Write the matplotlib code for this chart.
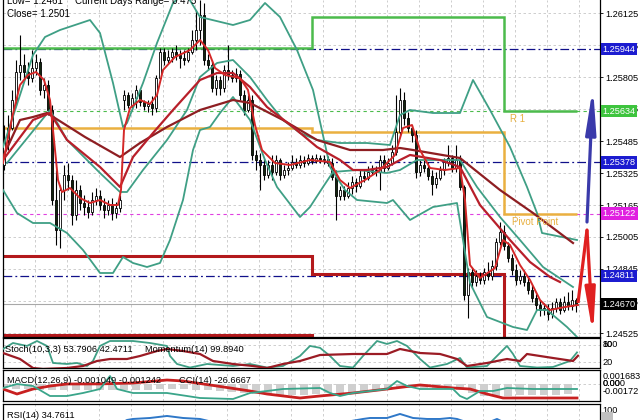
import numpy as np
import matplotlib
matplotlib.use("Agg")
import matplotlib.pyplot as plt
from matplotlib.transforms import blended_transform_factory

plt.rcParams['font.family'] = ['Liberation Sans', 'DejaVu Sans']

# ---------------- data ----------------
close = [1.2549, 1.2555, 1.2569, 1.2583, 1.25865, 1.2583, 1.2580, 1.2585, 1.2588, 1.2574,
         1.25765, 1.2564, 1.2519, 1.2504, 1.2524, 1.25315, 1.2529, 1.25115, 1.2524, 1.25175,
         1.25155, 1.2513, 1.2519, 1.2521, 1.25165, 1.2514, 1.25165, 1.25125, 1.2515, 1.2519,
         1.25715, 1.25665, 1.2570, 1.2574, 1.2568, 1.2566, 1.2567, 1.2565, 1.2580, 1.2593,
         1.2589, 1.25905, 1.2593, 1.25915, 1.2590, 1.2589, 1.2593, 1.2599, 1.2604, 1.26115,
         1.2589, 1.25865, 1.2575, 1.2579, 1.2575, 1.2584, 1.25815, 1.2580, 1.2582, 1.25715,
         1.2564, 1.2569, 1.25415, 1.2539, 1.25365, 1.25315, 1.25365, 1.2533, 1.2539, 1.25315,
         1.2534, 1.2535, 1.2538, 1.25365, 1.2539, 1.25375, 1.2540, 1.25385, 1.2540, 1.2539,
         1.25395, 1.25375, 1.25305, 1.2521, 1.2524, 1.2521, 1.2525, 1.2528, 1.2526, 1.2531,
         1.2530, 1.2533, 1.2534, 1.2533, 1.2539, 1.2535, 1.25375, 1.2543, 1.2553, 1.2569,
         1.2560, 1.2555, 1.25515, 1.2533, 1.25365, 1.2535, 1.2531, 1.2527, 1.2530, 1.2534,
         1.2538, 1.2540, 1.2535, 1.2539, 1.25255, 1.24715, 1.2483, 1.2478, 1.2481, 1.2479,
         1.2483, 1.2481, 1.2486, 1.2498, 1.2503, 1.2496, 1.2490, 1.2484, 1.2479, 1.2481,
         1.2478, 1.2474, 1.2470, 1.24665, 1.2464, 1.2465, 1.2462, 1.2465, 1.2468, 1.2464,
         1.2468, 1.2466, 1.2469, 1.2467]
high = [1.25565, 1.25615, 1.2574, 1.2589, 1.26015, 1.2592, 1.2588, 1.2594, 1.2592, 1.2590,
        1.2580, 1.2579, 1.25665, 1.2534, 1.25265, 1.25365, 1.25375, 1.25315, 1.2529, 1.25265,
        1.25215, 1.2519, 1.2523, 1.2525, 1.2524, 1.2520, 1.2519, 1.2520, 1.2518, 1.25215,
        1.2574, 1.2573, 1.25725, 1.25765, 1.2575, 1.2569, 1.2569, 1.2571, 1.25815, 1.2595,
        1.2595, 1.2594, 1.2595, 1.25965, 1.2594, 1.2594, 1.2595, 1.2604, 1.2614, 1.2619,
        1.26175, 1.2592, 1.2589, 1.25815, 1.2581, 1.25865, 1.25965, 1.2584, 1.2585, 1.2584,
        1.2574, 1.25715, 1.25715, 1.2544, 1.25425, 1.2540, 1.2539, 1.25415, 1.25415, 1.2540,
        1.25365, 1.2538, 1.25415, 1.2540, 1.25415, 1.2541, 1.2542, 1.25415, 1.2542, 1.25415,
        1.25415, 1.2541, 1.2540, 1.2534, 1.2526, 1.2526, 1.2528, 1.2531, 1.2530, 1.2534,
        1.2534, 1.2536, 1.25365, 1.2536, 1.25415, 1.25415, 1.2540, 1.25465, 1.25715, 1.2575,
        1.2573, 1.2563, 1.25565, 1.2554, 1.2539, 1.2539, 1.2538, 1.2534, 1.2533, 1.2536,
        1.2540, 1.25465, 1.25415, 1.25465, 1.25415, 1.25265, 1.2485, 1.2485, 1.2484, 1.2483,
        1.2485, 1.2488, 1.2489, 1.2500, 1.2508, 1.25065, 1.2498, 1.2492, 1.2487, 1.2484,
        1.2484, 1.2481, 1.24765, 1.2472, 1.2469, 1.24675, 1.2467, 1.2468, 1.2470, 1.2470,
        1.2471, 1.2473, 1.2474, 1.2470]
low = [1.2534, 1.2544, 1.2554, 1.25665, 1.2579, 1.2579, 1.25765, 1.2578, 1.25815, 1.25715,
       1.2570, 1.25615, 1.25165, 1.24965, 1.2495, 1.2519, 1.2524, 1.25065, 1.2509, 1.2514,
       1.25115, 1.2510, 1.25115, 1.25165, 1.2514, 1.2510, 1.25115, 1.2509, 1.2510, 1.2513,
       1.2564, 1.2565, 1.2564, 1.2565, 1.2566, 1.2564, 1.2563, 1.25615, 1.2563, 1.2579,
       1.25865, 1.25875, 1.2588, 1.2589, 1.2585, 1.25865, 1.2588, 1.2592, 1.2594, 1.25965,
       1.25865, 1.2584, 1.2573, 1.25715, 1.25715, 1.2573, 1.2579, 1.2578, 1.2578, 1.2569,
       1.25615, 1.2563, 1.2539, 1.2534, 1.2524, 1.2529, 1.2530, 1.2529, 1.25315, 1.2529,
       1.2530, 1.25315, 1.2534, 1.2535, 1.2535, 1.25355, 1.25365, 1.2537, 1.25375, 1.25375,
       1.2537, 1.2536, 1.2529, 1.2509, 1.2519, 1.2519, 1.2520, 1.2522, 1.2523, 1.2525,
       1.2528, 1.2529, 1.25315, 1.2531, 1.2524, 1.2533, 1.2534, 1.25365, 1.25415, 1.25515,
       1.25565, 1.2553, 1.2548, 1.2530, 1.2531, 1.2533, 1.2529, 1.25215, 1.2525, 1.2529,
       1.25315, 1.2536, 1.2533, 1.2533, 1.2524, 1.2469, 1.2460, 1.2475, 1.2476, 1.2477,
       1.2477, 1.2479, 1.2479, 1.2484, 1.24965, 1.2494, 1.2488, 1.24815, 1.24765, 1.2477,
       1.2476, 1.2472, 1.2468, 1.2464, 1.2461, 1.24615, 1.2459, 1.2460, 1.2463, 1.2462,
       1.2463, 1.2464, 1.2464, 1.2463]
first_open = 1.25365
gap_bar = 30
gap_open = 1.2569

# indicator lines: (bar index, price)
band1_bars = [-0.25, 4, 7.25, 10.25, 14, 21.5, 24, 27.25, 29.75, 30.75, 34.75, 38.25, 42.25, 45.25, 49,
              57.25, 61.5, 65.25, 69, 73.25, 77.25, 81.5, 85.25, 88.25, 95.75, 97.25, 101.5, 107.25,
              113.25, 114.75, 116.5, 120.75, 127.25, 130.75, 133.25, 135.75, 140.75, 143.25]
band1_vals = [1.25455, 1.25715, 1.25915, 1.26005, 1.2604, 1.2609, 1.26025, 1.25775, 1.25555, 1.25575,
              1.25775, 1.25975, 1.26175, 1.2623, 1.26105, 1.26065, 1.2609, 1.26175, 1.26105, 1.2594,
              1.2574, 1.25355, 1.2524, 1.2519, 1.25175, 1.2519, 1.2509, 1.25155, 1.25175, 1.2499,
              1.24775, 1.24605, 1.24555, 1.2454, 1.2464, 1.2464, 1.24555, 1.24505]
band2_bars = [-0.25, 3.25, 7.25, 11.5, 15.75, 19.75, 24, 27.25, 29.75, 32.25, 35.75, 39, 41.5, 44.75,
              47.25, 49, 51.5, 54, 57.25, 61.5, 65.25, 68.25, 74, 76.5, 79.75, 82.25, 88.25, 95.75,
              99, 103.25, 114, 118.25, 124, 129, 134.75, 142.25]
band2_vals = [1.2524, 1.25125, 1.25075, 1.25075, 1.25025, 1.2494, 1.24825, 1.24825, 1.24905, 1.24875,
              1.24855, 1.24875, 1.2499, 1.2519, 1.2544, 1.2554, 1.25555, 1.25625, 1.25705, 1.2559,
              1.2539, 1.25255, 1.25105, 1.25155, 1.25255, 1.2533, 1.2534, 1.25325, 1.2534, 1.2539,
              1.2539, 1.25255, 1.25105, 1.2499, 1.24855, 1.24755]
band3_bars = [0.75, 11.5, 15.75, 24, 29, 30.75, 34.75, 40.75, 45.75, 49, 53.25, 57.25, 61.5, 65.75,
              69.75, 74, 78.25, 84, 90.75, 96.5, 99, 101.5, 107.25, 114, 117.25, 121.5, 126.5,
              130.75, 133.25, 134.5, 143.25]
band3_vals = [1.25375, 1.2564, 1.2549, 1.25325, 1.2523, 1.2523, 1.2534, 1.2549, 1.2564, 1.25805,
              1.25875, 1.2589, 1.25805, 1.2569, 1.2559, 1.25525, 1.2549, 1.25475, 1.25475, 1.25465,
              1.25615, 1.2564, 1.25625, 1.25625, 1.2579, 1.2564, 1.25455, 1.25255, 1.25125, 1.25025,
              1.2499]
ma_fast_bars = [-0.25, 2, 4, 6, 8, 10, 11.5, 12.5, 13.5, 14.5, 16.5, 19, 21.5, 24, 26.5, 28.5, 29.25,
                30, 31.5, 34, 36.5, 38.25, 39.75, 42.75, 46.5, 49, 51, 52.75, 55.25, 59, 61, 62.75,
                64.5, 67.75, 71.5, 76.5, 81.5, 84, 86.5, 90.25, 94, 97.75, 99.75, 102, 104, 106.5,
                110.25, 114, 115.25, 116.5, 119, 122.75, 124.75, 126.5, 129, 131.5, 134, 136.5,
                140.25, 143.5]
ma_fast_vals = [1.25375, 1.2560, 1.25765, 1.25815, 1.2583, 1.2579, 1.2569, 1.2549, 1.2529, 1.2523,
                1.2525, 1.2520, 1.25175, 1.2519, 1.25165, 1.25165, 1.2524, 1.2554, 1.2565, 1.2569,
                1.2567, 1.25715, 1.2584, 1.25905, 1.2594, 1.2599, 1.2594, 1.2585, 1.25815, 1.2580,
                1.2574, 1.25565, 1.2544, 1.25375, 1.25365, 1.2539, 1.2538, 1.2529, 1.2525, 1.2529,
                1.2534, 1.25415, 1.2555, 1.25565, 1.2544, 1.2535, 1.2534, 1.2535, 1.2519, 1.24865,
                1.2480, 1.2485, 1.2499, 1.24965, 1.24865, 1.2479, 1.2469, 1.2464, 1.24655, 1.24665]
ma_mid_bars = [-0.25, 7.25, 11.5, 15.75, 24, 29, 32.25, 37.25, 42.25, 49, 53.25, 57.25, 61.5, 65.75,
               72.25, 78.25, 84, 87.25, 90.75, 95.75, 99, 101.5, 109, 114, 119, 126.5, 131.5,
               136.5, 139]
ma_mid_vals = [1.2539, 1.2559, 1.25625, 1.2549, 1.25355, 1.25255, 1.25405, 1.25525, 1.2564, 1.2579,
               1.25825, 1.25825, 1.25755, 1.25655, 1.25555, 1.25455, 1.2539, 1.2534, 1.2534, 1.25355,
               1.2539, 1.25415, 1.2539, 1.25355, 1.25165, 1.2499, 1.2488, 1.24805, 1.2478]
ma_slow_bars = [-0.25, 4, 7.25, 10.75, 20.25, 29, 34, 40.75, 49, 57.25, 61.5, 69.75, 78.25, 86.5,
                94.75, 99, 102.25, 114, 124, 132.25, 142.25]
ma_slow_vals = [1.25405, 1.2559, 1.25605, 1.25625, 1.25505, 1.25405, 1.25475, 1.25555, 1.2564, 1.2569,
                1.25675, 1.2559, 1.2549, 1.2544, 1.2544, 1.2545, 1.2544, 1.2540, 1.2524, 1.25125,
                1.24975]

# daily pivot levels
day_edges = [-0.25, 77, 125, 143.25]
r1_levels = [1.2595, 1.26105, 1.25634]
pp_levels = [1.2555, 1.2553, 1.25122]
s1_levels = [1.2491, 1.2482, 1.2430]
s2_levels = [1.24515, 1.2420, 1.2380]

# horizontal price levels with right-side labels
level_prices = [1.25944, 1.25634, 1.25378, 1.25122, 1.24811, 1.24670]

# zigzag projection arrows
blue_arrow_bars = [145.75, 147.25]
blue_arrow_prices = [1.2508, 1.25755]
red_arrow_bars = [143.5, 145.75, 147.25]
red_arrow_prices = [1.24675, 1.2504, 1.24515]

price_ticks = [1.26125, 1.25965, 1.25805, 1.25645, 1.25485, 1.25325,
               1.25165, 1.25005, 1.24845, 1.24685, 1.24525]

# stochastic / momentum
stoch_bars = [-0.25, 2.25, 5.75, 8.25, 10.75, 12.25, 15.75, 18.25, 20.75, 22.25, 24, 26.5, 32.25,
              36.5, 40.75, 41.5, 43.25, 46.5, 50.75, 57.25, 61.5, 65.75, 69.75, 74, 76.5, 79, 81.5,
              84, 87.25, 89.75, 93.25, 95.75, 98.25, 100.75, 104, 106.5, 110.75, 114, 115.75,
              120.75, 124, 125.75, 127.25, 129, 133.25, 137.25, 141.5, 143.25]
stoch_vals = [66, 87, 76.6, 94, 76.6, 16.6, 13, 16.6, 6, 23.6, 76.6, 94, 94, 87, 76.6, 41.3, 13, 0.5,
              13, 6, 13, 0.5, 6, 41.3, 76.6, 70, 41.3, 6, 0.5, 41.3, 94, 83.6, 94, 76.6, 30.7, 0.5,
              13, 34.2, 0.5, 6, 51.9, 76.6, 48.4, 6, 0.5, 2.5, 23.6, 53.8]
mom_bars = [-0.25, 4, 7.25, 9.75, 15.75, 19.75, 23.25, 26.5, 30.75, 34, 38.25, 40.75, 44.75, 49,
            52.25, 57.25, 62.25, 65.75, 69.75, 74, 79, 87.25, 95.75, 99, 104, 109, 110.75, 113.25,
            115.75, 120.75, 125.75, 129, 130.75, 137.25, 142.25, 143.5]
mom_vals = [100.0, 99.76, 99.4, 99.36, 99.4, 99.48, 99.68, 99.76, 99.76, 99.88, 100.08, 100.16,
            100.08, 99.96, 99.68, 99.56, 99.48, 99.4, 99.56, 99.68, 99.92, 99.96, 99.96, 100.16,
            100.0, 99.96, 99.88, 99.76, 99.48, 99.6, 99.76, 99.68, 99.96, 99.8, 99.68, 99.89]

# MACD / CCI
macd_hist = [-0.0009, -0.0010, -0.0011, -0.0012, -0.0013, -0.0014, -0.0014, -0.0013, -0.0013, -0.0012,
             -0.0012, -0.0013, -0.0012, -0.0011, -0.0010, -0.0010, -0.0012, -0.0014, -0.0016, -0.0018,
             -0.0020, -0.0022, -0.0023, -0.0024, -0.0024, -0.0023, -0.0022, -0.0020, -0.0019, -0.0018,
             -0.0017, -0.0015, -0.0012, -0.0009, -0.0008, -0.0009, -0.0010, -0.0011, -0.0014, -0.0020,
             -0.0025, -0.0026, -0.0025, -0.0024, -0.0024, -0.0023, -0.0023, -0.0022]
macd_hist_step = 3
signal_bars = [-0.25, 3.25, 7.25, 11.5, 15.75, 24, 32.25, 40.75, 44.75, 53.25, 61.5, 65.75, 74, 79,
               87.25, 95.75, 104, 112.25, 116.5, 120.75, 124.75, 133.25, 143.25]
signal_vals = [-0.00109, -0.00215, -0.00109, -0.00045, -0.00002, 0.0, 0.00019, 0.00083, 0.00062,
               -0.00045, -0.00151, -0.00215, -0.0030, -0.00257, -0.00194, -0.00109, -0.00023,
               -0.00087, -0.00109, -0.00215, -0.0030, -0.0030, -0.0030]
cci_bars = [-0.25, 3.25, 7.25, 11.5, 15.75, 19.75, 24, 26.5, 28.25, 32.25, 40.75, 45.75, 49, 57.25,
            61.5, 65.75, 69.75, 79, 81.5, 84, 87.25, 95.75, 98.25, 100.75, 104, 112.25, 114, 115.75,
            119, 122.25, 125.75, 132.25, 143.25]
cci_vals = [-80, 0, -40, -240, -240, -180, -100, 160, -100, -180, -180, -240, -280, -300, -180, -140,
            -100, -80, -180, -240, -180, -100, 60, -40, -100, -100, -240, -300, -140, -140, -80,
            -100, -100]

# RSI
rsi_bars = [-0.25, 14, 26.5, 29, 30.75, 32.25, 36.5, 40.75, 44.75, 49, 53.25, 61.5, 74, 84, 89.75,
            91.5, 95.75, 99, 102.25, 105.75, 109, 111.5, 113.25, 114.75, 120.75, 123.25, 124.75,
            131.5, 143.5]
rsi_vals = [50, 40, 55, 45.8, 62.5, 66.7, 70.8, 79.2, 70.8, 66.7, 50, 30, 40, 50, 66.7, 70.8, 70.8,
            87.5, 70.8, 66.7, 66.7, 70.8, 66.7, 58.3, 50, 66.7, 54.2, 35, 34.8]

# ---------------- figure ----------------
W, H = 640.0, 420.0
fig = plt.figure(figsize=(6.4, 4.2), dpi=100)


def box(x0, y0, x1, y1):
    return [x0 / W, 1 - y1 / H, (x1 - x0) / W, (y1 - y0) / H]


ax = fig.add_axes(box(3, 0, 600, 337))
ax_s = fig.add_axes(box(3, 338, 600, 368))
ax_d = fig.add_axes(box(3, 370, 600, 401))
ax_r = fig.add_axes(box(3, 404, 600, 435))

XL = (-0.25, 149)
grid_color = '#c6c6c6'
grid_ls = (0, (3, 3))
grid_x = np.arange(7.75, 149, 8)
LFS = 6.6

for a in (ax, ax_s, ax_d, ax_r):
    a.set_xlim(*XL)
    a.set_xticks([])
    a.set_facecolor('white')
    for gx in grid_x:
        a.axvline(gx, color=grid_color, lw=0.6, ls=grid_ls, zorder=0)
    for sp in a.spines.values():
        sp.set_color('black')
        sp.set_linewidth(0.9)

# ---- main panel ----
ax.set_ylim(1.24505, 1.2619)
ax.spines['top'].set_visible(False)
for p in price_ticks:
    ax.axhline(p, color=grid_color, lw=0.6, ls=grid_ls, zorder=0)
ax.yaxis.tick_right()
ax.set_yticks(price_ticks)
ax.set_yticklabels([f'{p:.5f}' for p in price_ticks])
ax.tick_params(axis='y', length=2.5, width=0.6, pad=1, labelsize=LFS, colors='black')

close_a = np.array(close)
opens = np.concatenate([[first_open], close_a[:-1]])
opens[gap_bar] = gap_open
high_a = np.maximum(np.array(high), np.maximum(opens, close_a))
low_a = np.minimum(np.array(low), np.minimum(opens, close_a))
idx = np.arange(len(close_a))

# pivot step lines
ax.stairs(s2_levels, day_edges, baseline=None, color='#b3191c', lw=2.2, zorder=2)
ax.stairs(s1_levels, day_edges, baseline=None, color='#b3191c', lw=2.2, zorder=2)
ax.stairs(pp_levels, day_edges, baseline=None, color='#eab040', lw=1.8, zorder=2)
ax.stairs(r1_levels, day_edges, baseline=None, color='#4cbb4c', lw=1.8, zorder=2)
ax.text(126.5, 1.25595, 'R 1', color='#e8b040', fontsize=7, va='center', zorder=6)
ax.text(127, 1.2508, 'Pivot Point', color='#e8b040', fontsize=7, va='center', zorder=6)

# horizontal levels
navy_dd = (0, (7, 2.5, 1.5, 2.5))
level_styles = [dict(color='#10108a', ls=navy_dd, lw=0.9),
                dict(color='#4cbb4c', ls=(0, (3, 3)), lw=0.8),
                dict(color='#10108a', ls=navy_dd, lw=0.9),
                dict(color='#e040e0', ls=(0, (3, 3)), lw=0.8),
                dict(color='#10108a', ls=navy_dd, lw=0.9),
                dict(color='#a8a8a8', ls='-', lw=0.8)]
label_bg = ['#1c1cd0', '#3ec43e', '#1c1cd0', '#e020e0', '#1c1cd0', '#000000']
trans_lab = blended_transform_factory(ax.transAxes, ax.transData)
for p, st, bg in zip(level_prices, level_styles, label_bg):
    ax.axhline(p, zorder=1, **st)
    ax.text(1.0045, p, f'{p:.5f}', transform=trans_lab, fontsize=LFS, color='white', va='center',
            ha='left', clip_on=False, zorder=20,
            bbox=dict(boxstyle='square,pad=0.18', fc=bg, ec='none'))

# candles
up = close_a >= opens
body_lo = np.minimum(opens, close_a)
body_h = np.maximum(np.abs(close_a - opens), 0.00002)
ax.vlines(idx, low_a, high_a, color='black', lw=0.8, zorder=3)
ax.bar(idx[up], body_h[up], bottom=body_lo[up], width=0.72, color='white',
       edgecolor='black', linewidth=0.6, zorder=3.5)
ax.bar(idx[~up], body_h[~up], bottom=body_lo[~up], width=0.72, color='#13260f',
       edgecolor='black', linewidth=0.6, zorder=3.5)

# bands and moving averages
teal = '#3f9f85'
ax.plot(band1_bars, band1_vals, color=teal, lw=1.3, zorder=4)
ax.plot(band2_bars, band2_vals, color=teal, lw=1.3, zorder=4)
ax.plot(band3_bars, band3_vals, color=teal, lw=1.3, zorder=4)
ax.plot(ma_slow_bars, ma_slow_vals, color='#8e1e22', lw=1.6, zorder=4.5)
ax.plot(ma_mid_bars, ma_mid_vals, color='#b81f2a', lw=1.6, zorder=4.6)
ax.plot(ma_fast_bars, ma_fast_vals, color='#d42828', lw=1.4, zorder=4.7)

# arrows
arrow_style = '-|>,head_length=2.6,head_width=0.3'
ax.annotate('', xy=(blue_arrow_bars[1], blue_arrow_prices[1]),
            xytext=(blue_arrow_bars[0], blue_arrow_prices[0]),
            arrowprops=dict(arrowstyle=arrow_style, color='#3a3aaa',
                            lw=2.3, shrinkA=0, shrinkB=0), zorder=8)
ax.plot(red_arrow_bars[:2], red_arrow_prices[:2], color='#e02020', lw=2.3, zorder=8,
        solid_capstyle='butt')
ax.annotate('', xy=(red_arrow_bars[2], red_arrow_prices[2]),
            xytext=(red_arrow_bars[1], red_arrow_prices[1]),
            arrowprops=dict(arrowstyle=arrow_style, color='#e02020',
                            lw=2.3, shrinkA=0, shrinkB=0), zorder=8)

# ---- stochastic panel ----
ax_s.set_ylim(-1.1, 104.6)
ax_s.set_yticks([])
for lvl in (20, 80):
    ax_s.axhline(lvl, color=grid_color, lw=0.6, ls=grid_ls, zorder=0)
ax_m = ax_s.twinx()
ax_m.set_xlim(*XL)
ax_m.set_ylim(99.4, 100.6)
ax_m.set_yticks([])
for sp in ax_m.spines.values():
    sp.set_visible(False)
ax_m.plot(mom_bars, mom_vals, color='#9b1b24', lw=1.6, zorder=3)
ax_s.plot(stoch_bars, stoch_vals, color=teal, lw=1.3, zorder=4)
ax_m.text(0.004, 0.62, 'Stoch(10,3,3) 53.7906 42.4711', transform=ax_s.transAxes,
          fontsize=6.7, va='center', ha='left', zorder=10)
ax_m.text(142 / 597, 0.62, 'Momentum(14) 99.8940', transform=ax_s.transAxes,
          fontsize=6.7, va='center', ha='left', zorder=10)
ts = blended_transform_factory(ax_s.transAxes, ax_s.transData)
ax_s.text(1.004, 81, '100', transform=ts, fontsize=LFS, va='center', clip_on=False)
ax_s.text(1.004, 80, '80', transform=ts, fontsize=LFS, va='center', clip_on=False)
ax_s.text(1.004, 20, '20', transform=ts, fontsize=LFS, va='center', clip_on=False)

# ---- MACD panel ----
ax_d.set_ylim(-0.00364, 0.00296)
ax_d.set_yticks([])
ax_d.axhline(0, color=grid_color, lw=0.6, ls=grid_ls, zorder=0)
hist_x = np.arange(len(macd_hist)) * macd_hist_step
ax_d.bar(hist_x, macd_hist, width=2.2, color='#cfcfcf', edgecolor='none', zorder=1)
ax_d.plot(signal_bars, signal_vals, color='#c82020', lw=2.0, zorder=3)
ax_c = ax_d.twinx()
ax_c.set_xlim(*XL)
ax_c.set_ylim(-340, 280)
ax_c.set_yticks([])
for sp in ax_c.spines.values():
    sp.set_visible(False)
ax_c.plot(cci_bars, cci_vals, color='#3aa58a', lw=1.3, zorder=4)
ax_c.text(0.006, 0.65, 'MACD(12,26,9) -0.001049 -0.001242', transform=ax_d.transAxes,
          fontsize=6.7, va='center', ha='left', zorder=10)
ax_c.text(176 / 597, 0.65, 'CCI(14) -26.6667', transform=ax_d.transAxes,
          fontsize=6.7, va='center', ha='left', zorder=10)
td = blended_transform_factory(ax_d.transAxes, ax_d.transData)
ax_d.text(1.004, 0.00155, '0.001683', transform=td, fontsize=LFS, va='center', clip_on=False)
ax_d.text(1.004, 0.0, '0.000', transform=td, fontsize=LFS, va='center', clip_on=False)
ax_d.text(1.004, 0.00008, '0.00', transform=td, fontsize=LFS, va='center', clip_on=False)
ax_d.text(1.004, -0.00172, '-0.00172', transform=td, fontsize=LFS, va='center', clip_on=False)

# ---- RSI panel ----
ax_r.set_ylim(0, 129)
ax_r.set_yticks([])
ax_r.plot(rsi_bars, rsi_vals, color='#2f78c8', lw=1.4, zorder=3)
ax_r.text(0.006, 0.645, 'RSI(14) 34.7611', transform=ax_r.transAxes, fontsize=6.7,
          va='center', ha='left', zorder=10)
tr = blended_transform_factory(ax_r.transAxes, ax_r.transData)
ax_r.text(1.004, 100, '100', transform=tr, fontsize=LFS, va='center', clip_on=False)
ax_r.text(1.004, 75, '    ', transform=tr, fontsize=LFS, va='center', clip_on=False,
          bbox=dict(boxstyle='square,pad=0.1', fc='#c0c0c0', ec='none'))

# ---- header texts ----
fig.text(7 / W, 1 - 1.5 / H, 'Low= 1.2461', fontsize=7, va='center', ha='left')
fig.text(75 / W, 1 - 1.5 / H, 'Current Days Range= 0.475', fontsize=7, va='center', ha='left')
fig.text(7 / W, 1 - 14 / H, 'Close= 1.2501', fontsize=7, va='center', ha='left')

fig.savefig('out.png', dpi=100, facecolor='white')
